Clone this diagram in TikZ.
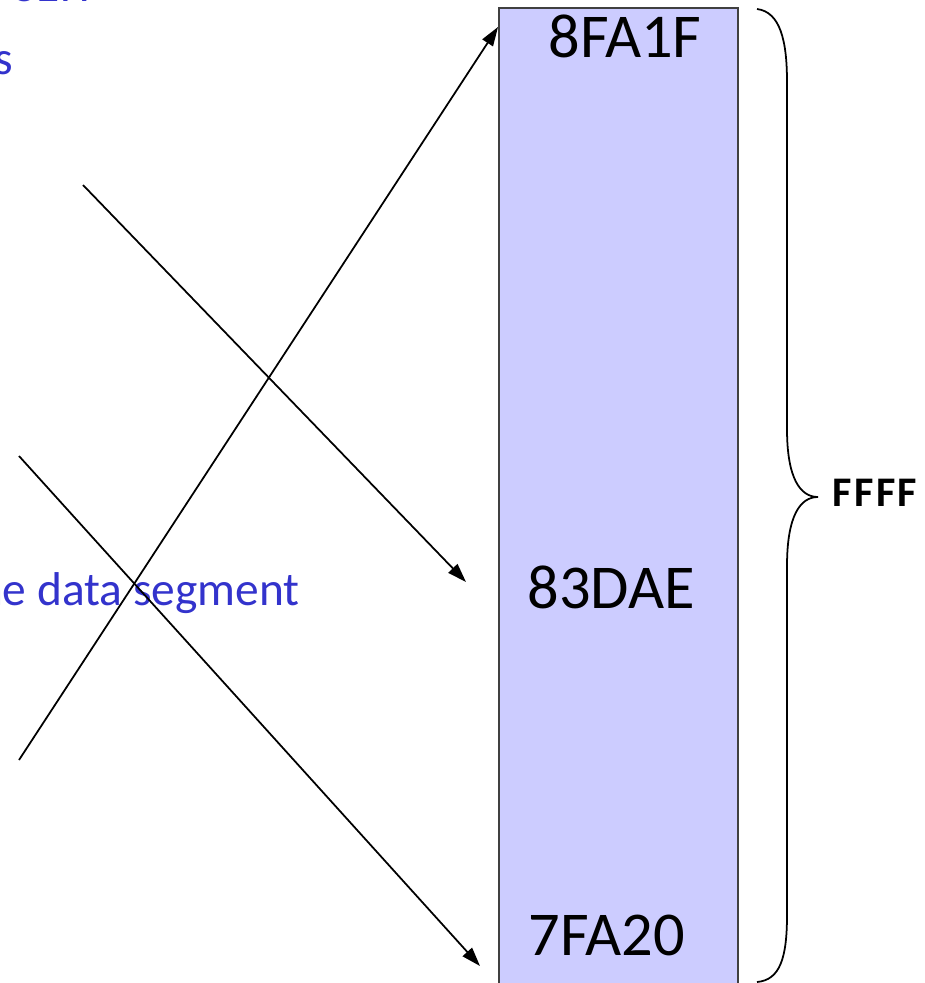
\documentclass[tikz,border=0pt]{standalone}
\usepackage{fontspec}
\setmainfont{Carlito}
\usetikzlibrary{positioning, arrows.meta, calc}
\definecolor{segblau}{HTML}{3333CC}
\definecolor{speicherlila}{HTML}{CCCCFF}
\definecolor{randgrau}{HTML}{404040}

\begin{document}
\begin{tikzpicture}[>={Triangle[length=3.8mm, width=2.5mm]}, x=0.02cm, y=-0.02cm,
    adresse/.style={font=\fontsize{35.5}{42}\selectfont, anchor=base, inner sep=0pt},
    blautext/.style={font=\fontsize{27}{32}\selectfont, text=segblau, inner sep=0pt},
    zeiger/.style={->, line width=1pt}]

    \useasboundingbox (0,0) rectangle (924,983);
    \clip (0,0) rectangle (924,983);

    % Speicherbereich (Segment), unten abgeschnitten
    \filldraw[fill=speicherlila, draw=randgrau, line width=1pt] (499,8) rectangle (738,1010);

    % Adressen im Segment
    \node[adresse] (oben) at (625,58) {8FA1F};
    \node[adresse] (mitte) at (611,608) {83DAE};
    \node[adresse] (unten) at (607,955) {7FA20};

    % Abgeschnittener Text am linken Rand
    \node[blautext, anchor=base east] (zeile1) at (90,2) {8EH};
    \node[blautext, anchor=base east] (zeile2) at (13,75) {s};
    \node[blautext, anchor=base east] (zeile3) at (300,605) {the data segment};

    % Endpunkte der Zeiger
    \coordinate (a1) at (83,185);
    \coordinate (a2) at (466,582);
    \coordinate (b1) at (19,456);
    \coordinate (b2) at (480,966);
    \coordinate (c1) at (19,760);
    \coordinate (c2) at (498,27);

    % Zeiger auf die Adressen
    \draw[zeiger] (a1) -- (a2);
    \draw[zeiger] (b1) -- (b2);
    \draw[zeiger] (c1) -- (c2);

    % Geschweifte Klammer fuer die Segmentgroesse
    \coordinate (spitze) at (818,497);
    \draw[line width=1pt] (757,9) .. controls (780,12) and (787,40) .. (787,82)
        -- (787,429) .. controls (787,478) and (800,497) .. (spitze)
        .. controls (800,497) and (787,516) .. (787,566)
        -- (787,915) .. controls (787,958) and (780,980) .. (757,982);
    \node[font=\fontsize{24}{28}\selectfont\bfseries\addfontfeature{LetterSpace=6},
        anchor=base west, inner sep=0pt] (groesse) at (832,506) {FFFF};

\end{tikzpicture}
\end{document}
